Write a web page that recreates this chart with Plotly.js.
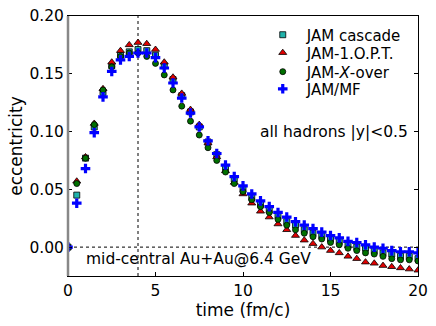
<!DOCTYPE html>
<html>
<head>
<meta charset="utf-8">
<script src="https://cdn.plot.ly/plotly-3.0.1.min.js"></script>
<style>html,body{margin:0;padding:0;background:#fff;}#chart{width:436px;height:326px;}</style>
</head>
<body>
<div id="chart"></div>
<script>
const time = [0,0.5,1,1.5,2,2.5,3,3.5,4,4.5,5,5.5,6,6.5,7,7.5,8,8.5,9,9.5,10,10.5,11,11.5,12,12.5,13,13.5,14,14.5,15,15.5,16,16.5,17,17.5,18,18.5,19,19.5,20];
const cascade = [0,0.045,0.077,0.104,0.134,0.157,0.166,0.169,0.171,0.170,0.166,0.157,0.145,0.131,0.117,0.104,0.091,0.080,0.069,0.059,0.050,0.043,0.037,0.032,0.027,0.022,0.019,0.015,0.012,0.010,0.007,0.005,0.002,0.000,-0.001,-0.003,-0.005,-0.006,-0.008,-0.008,-0.010];
const opt1 = [0,0.057,0.078,0.107,0.137,0.160,0.170,0.175,0.177,0.176,0.171,0.160,0.147,0.133,0.119,0.106,0.090,0.078,0.066,0.056,0.046,0.038,0.031,0.026,0.020,0.015,0.010,0.006,0.003,0.000,-0.003,-0.005,-0.008,-0.010,-0.013,-0.014,-0.016,-0.017,-0.018,-0.019,-0.020];
const xover = [0,0.055,0.077,0.106,0.136,0.156,0.165,0.168,0.168,0.165,0.159,0.149,0.136,0.122,0.109,0.097,0.086,0.075,0.065,0.055,0.048,0.041,0.035,0.030,0.024,0.019,0.015,0.012,0.009,0.007,0.004,0.002,-0.001,-0.003,-0.005,-0.006,-0.008,-0.010,-0.011,-0.011,-0.012];
const mf = [0,0.038,0.068,0.099,0.130,0.152,0.162,0.165,0.168,0.168,0.164,0.155,0.142,0.129,0.116,0.104,0.092,0.081,0.071,0.061,0.053,0.046,0.040,0.035,0.030,0.026,0.022,0.019,0.016,0.013,0.010,0.008,0.005,0.004,0.002,0.000,-0.001,-0.003,-0.004,-0.004,-0.005];
const names = ["JAM cascade","JAM-1.O.P.T.","JAM-<i>X</i>-over","JAM/MF"];

const F = "DejaVu Sans, sans-serif";
const traces = [
  {x: time, y: cascade, name: names[0], mode: "markers", type: "scatter", legend: "legend",
   marker: {symbol: "square", size: 6, color: "#20b2aa", line: {color: "#000", width: 0.8}}},
  {x: time, y: opt1, name: names[1], mode: "markers", type: "scatter", legend: "legend2",
   marker: {symbol: "triangle-up", size: 7, color: "#e00000", line: {color: "#000", width: 0.8}}},
  {x: time, y: xover, name: names[2], mode: "markers", type: "scatter", legend: "legend3",
   marker: {symbol: "circle", size: 6, color: "#007000", line: {color: "#000", width: 0.8}}},
  {x: time, y: mf, name: names[3], mode: "markers", type: "scatter", legend: "legend4",
   marker: {symbol: "cross", size: 8, color: "#0000ff", line: {width: 0}}}
];

function leg(y) {
  return {x: 0.545, y: y, xanchor: "left", yanchor: "middle", bgcolor: "rgba(0,0,0,0)",
          font: {family: F, size: 15}, itemsizing: "trace", itemwidth: 38, tracegroupgap: 0};
}

const layout = {
  width: 436, height: 326,
  margin: {l: 68, r: 18, t: 16, b: 50},
  paper_bgcolor: "#fff", plot_bgcolor: "#fff",
  font: {family: F, size: 14, color: "#000"},
  showlegend: true,
  legend: leg(0.927), legend2: leg(0.858), legend3: leg(0.785), legend4: leg(0.719),
  xaxis: {range: [0, 20], tickvals: [0,5,10,15,20], ticks: "inside", ticklen: 4, tickcolor: "#000",
          showgrid: false, zeroline: false, showline: true, linecolor: "#000", linewidth: 1, mirror: true,
          tickfont: {family: F, size: 15.5},
          title: {text: "time (fm/c)", font: {family: F, size: 17}, standoff: 4}},
  yaxis: {range: [-0.025, 0.2], tickvals: [0,0.05,0.1,0.15,0.2], ticktext: ["0.00","0.05","0.10","0.15","0.20"],
          ticks: "inside", ticklen: 4, tickcolor: "#000",
          showgrid: false, zeroline: false, showline: true, linecolor: "#000", linewidth: 1, mirror: "ticks",
          tickfont: {family: F, size: 15.5},
          title: {text: "eccentricity", font: {family: F, size: 17}, standoff: 2}},
  shapes: [
    {type: "line", xref: "x", yref: "paper", x0: 4, x1: 4, y0: 0, y1: 1, line: {color: "#000", width: 1, dash: "dot"}, layer: "below"},
    {type: "line", xref: "paper", yref: "y", x0: 0, x1: 1, y0: 0, y1: 0, line: {color: "#000", width: 1, dash: "dot"}, layer: "below"},
    {type: "line", xref: "paper", yref: "paper", x0: 0, x1: 0, y0: 0, y1: 1, line: {color: "#888", width: 2.5}}
  ],
  annotations: [
    {xref: "paper", yref: "paper", x: 0.978, y: 0.554, xanchor: "right", yanchor: "middle",
     text: "all hadrons |y|<0.5", showarrow: false, font: {family: F, size: 15.5}},
    {xref: "paper", yref: "paper", x: 0.045, y: 0.065, xanchor: "left", yanchor: "middle",
     text: "mid-central Au+Au@6.4 GeV", showarrow: false, font: {family: F, size: 15.5}}
  ]
};

Plotly.newPlot("chart", traces, layout, {displayModeBar: false, staticPlot: true});
</script>
</body>
</html>
